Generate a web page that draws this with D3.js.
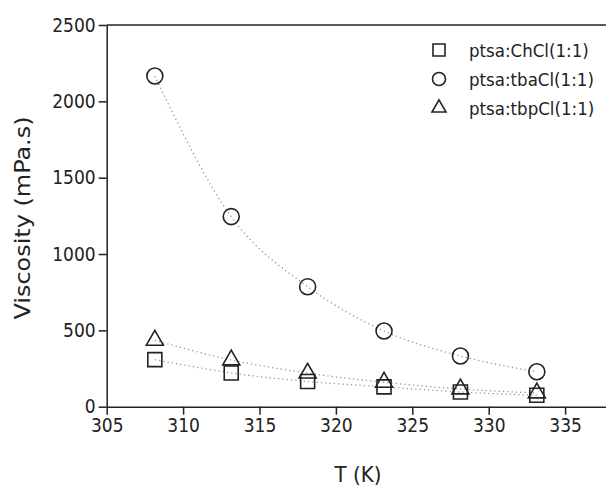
<!DOCTYPE html>
<html lang="en">
<head>
  <meta charset="UTF-8">
  <script src="https://cdn.jsdelivr.net/npm/d3@7"></script>
  <title>Viscosity vs T</title>
  <style>
    body { margin: 0; background: white; }
    * { font-family: 'DejaVu Sans Condensed', 'DejaVu Sans', sans-serif; }
    .tick text { font-size: 19px; fill: #222; }
    .domain, .tick line { stroke: #222; stroke-width: 1.5; }
    .label { font-size: 22px; fill: #222; text-anchor: middle; }
    .legend text { font-size: 18.5px; fill: #222; }
  </style>
</head>
<body>
  <script>
    const temps = [308.15, 313.15, 318.15, 323.15, 328.15, 333.15];
    const chcl = [308, 221, 165, 130, 96, 75];
    const tbacl = [2166, 1245, 786, 496, 332, 229];
    const tbpcl = [435, 306, 220, 160, 116, 90];
    const xTicks = [305, 310, 315, 320, 325, 330, 335];
    const yTicks = [0, 500, 1000, 1500, 2000, 2500];

    const width = 606, height = 486;
    const plotLeft = 106.7, plotTop = 25, plotBottom = 406.7;
    const pxPerK = 15.28;

    const x = d3.scaleLinear().domain([305, 340]).range([plotLeft, plotLeft + 35 * pxPerK]);
    const y = d3.scaleLinear().domain([0, 2500]).range([plotBottom, plotTop]);

    const svg = d3.select('body').append('svg').attr('width', width).attr('height', height);

    // top frame line
    svg.append('line').attr('x1', plotLeft).attr('x2', width).attr('y1', plotTop).attr('y2', plotTop)
      .attr('stroke', '#222').attr('stroke-width', 1.5);

    svg.append('g').attr('transform', `translate(0,${plotBottom})`)
      .call(d3.axisBottom(x).tickValues(xTicks).tickFormat(d3.format('d'))
        .tickSize(8).tickSizeOuter(0).tickPadding(4));
    svg.append('g').attr('transform', `translate(${plotLeft},0)`)
      .call(d3.axisLeft(y).tickValues(yTicks).tickFormat(d3.format('d'))
        .tickSize(8).tickSizeOuter(0).tickPadding(3));

    svg.append('text').attr('class', 'label').attr('x', 358).attr('y', 482).text('T (K)');
    svg.append('text').attr('class', 'label')
      .attr('transform', `translate(30,218) rotate(-90)`)
      .attr('textLength', 203).attr('lengthAdjust', 'spacingAndGlyphs')
      .text('Viscosity (mPa.s)');

    const series = [
      { name: 'ptsa:ChCl(1:1)', values: chcl, shape: 'square' },
      { name: 'ptsa:tbaCl(1:1)', values: tbacl, shape: 'circle' },
      { name: 'ptsa:tbpCl(1:1)', values: tbpcl, shape: 'triangle' }
    ];

    const line = d3.line().x(d => x(d[0])).y(d => y(d[1])).curve(d3.curveMonotoneX);

    series.forEach(s => {
      const pts = temps.map((t, i) => [t, s.values[i]]);
      svg.append('path').datum(pts).attr('d', line)
        .attr('fill', 'none').attr('stroke', '#999').attr('stroke-width', 1.3)
        .attr('stroke-dasharray', '1.3 3');
    });

    function marker(g, shape, size) {
      const sym = { square: d3.symbolSquare, circle: d3.symbolCircle, triangle: d3.symbolTriangle }[shape];
      const area = { square: size * size, circle: Math.PI * size * size / 4, triangle: size * size * 0.433 }[shape];
      return g.append('path').attr('d', d3.symbol(sym, area)())
        .attr('fill', 'none').attr('stroke', '#222').attr('stroke-width', 1.6);
    }

    const sizes = { square: 14, circle: 16, triangle: 17 };
    series.forEach(s => {
      temps.forEach((t, i) => {
        const g = svg.append('g').attr('transform', `translate(${x(t)},${y(s.values[i])})`);
        marker(g, s.shape, sizes[s.shape]);
      });
    });

    const legend = svg.append('g').attr('class', 'legend');
    series.forEach((s, i) => {
      const ly = 50 + i * 29;
      const g = legend.append('g').attr('transform', `translate(439,${ly})`);
      marker(g, s.shape, { square: 12, circle: 13, triangle: 14 }[s.shape]);
      legend.append('text').attr('x', 469).attr('y', ly + 7).text(s.name);
    });
  </script>
</body>
</html>
